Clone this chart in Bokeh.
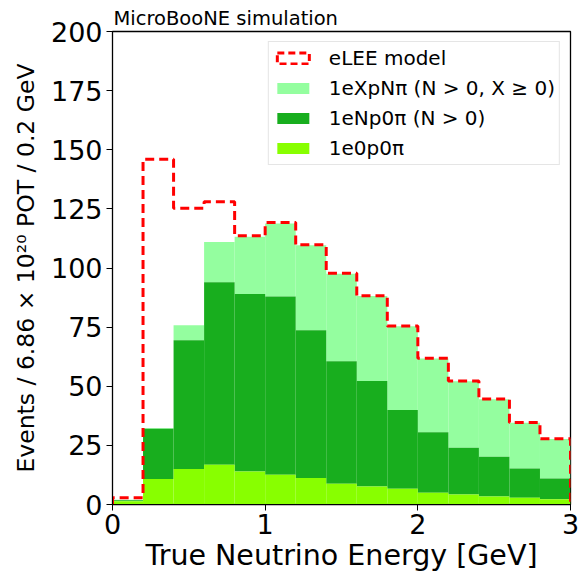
import numpy as np
from bokeh.plotting import figure
from bokeh.models import Legend, LegendItem, FixedTicker, Range1d
from bokeh.embed import file_html
from bokeh.resources import INLINE

edges = [0.0, 0.2, 0.4, 0.6, 0.8, 1.0, 1.2, 1.4, 1.6, 1.8, 2.0, 2.2, 2.4, 2.6, 2.8, 3.0]
e0p0pi = [1.4, 10.8, 15.0, 16.8, 14.0, 12.6, 11.2, 8.8, 7.6, 6.7, 5.0, 4.2, 3.4, 2.9, 2.2]
eNp0pi_top = [1.8, 32.0, 69.5, 94.0, 89.0, 88.0, 73.7, 60.6, 52.2, 40.0, 30.5, 24.0, 20.2, 15.2, 11.0]
total_top = [2.0, 32.3, 75.8, 111.0, 113.2, 118.8, 109.6, 97.6, 88.2, 75.4, 61.7, 52.1, 44.5, 34.6, 27.7]
elee = [2.9, 146.0, 125.3, 128.0, 113.6, 119.2, 109.8, 97.8, 88.3, 75.5, 61.8, 52.2, 44.6, 34.7, 27.8]
y_ticks = [0, 25, 50, 75, 100, 125, 150, 175, 200]
x_ticks = [0, 1, 2, 3]

c_lime = "#88ff00"
c_dark = "#18ae1e"
c_light = "#94fe9f"

FONT = "DejaVu Sans"

p = figure(width=583, height=574, output_backend="svg", toolbar_location=None,
           x_range=Range1d(0, 3), y_range=Range1d(0, 200),
           min_border_left=112, min_border_right=13, min_border_top=31, min_border_bottom=70)
p.title.text = "MicroBooNE simulation"
p.title.text_font = FONT
p.title.text_font_size = "19.5px"
p.title.text_font_style = "normal"
p.title.text_color = "black"
p.title.offset = 1
p.title.standoff = 3

left = np.array(edges[:-1])
right = np.array(edges[1:])
zeros = np.zeros(len(left))

r_light = p.quad(left=left, right=right, bottom=np.array(eNp0pi_top), top=np.array(total_top),
                 fill_color=c_light, line_color=None)
r_dark = p.quad(left=left, right=right, bottom=np.array(e0p0pi), top=np.array(eNp0pi_top),
                fill_color=c_dark, line_color=None)
r_lime = p.quad(left=left, right=right, bottom=zeros, top=np.array(e0p0pi),
                fill_color=c_lime, line_color=None)

# step outline for eLEE model
xs = np.repeat(np.array(edges), 2)
ys = np.concatenate([[0.0], np.repeat(np.array(elee), 2), [0.0]])
p.line(xs, ys, line_color="red", line_width=3, line_dash="9 5")
# legend proxy
r_elee = p.quad(left=[0], right=[0], bottom=[0], top=[0], fill_alpha=0, line_color="red",
                line_width=3, line_dash="7 4")

legend = Legend(items=[
    LegendItem(label="eLEE model", renderers=[r_elee]),
    LegendItem(label="1eXpNπ (N > 0, X ≥ 0)", renderers=[r_light]),
    LegendItem(label="1eNp0π (N > 0)", renderers=[r_dark]),
    LegendItem(label="1e0p0π", renderers=[r_lime]),
], location="top_right")
legend.label_text_font = FONT
legend.label_text_font_size = "20px"
legend.label_text_color = "black"
legend.glyph_width = 40
legend.glyph_height = 14
legend.label_height = 20
legend.spacing = 6
legend.padding = 4
legend.margin = 10
legend.border_line_color = "#cccccc"
legend.border_line_width = 1
legend.label_standoff = 16
p.add_layout(legend)

p.xgrid.visible = False
p.ygrid.visible = False
p.outline_line_color = "black"
p.outline_line_width = 1.3

p.xaxis.ticker = FixedTicker(ticks=x_ticks)
p.yaxis.ticker = FixedTicker(ticks=y_ticks)
p.xaxis.minor_tick_line_color = None
p.yaxis.minor_tick_line_color = None
for ax in (p.xaxis, p.yaxis):
    ax.major_tick_out = 6
    ax.major_tick_in = 0
    ax.axis_line_color = "black"
    ax.major_tick_line_color = "black"
    ax.major_label_text_font = FONT
    ax.axis_label_text_font = FONT
    ax.axis_label_text_font_style = "normal"
    ax.major_label_text_color = "black"
    ax.axis_label_text_color = "black"
    ax.major_label_text_font_size = "27px"

p.xaxis.axis_label = "True Neutrino Energy [GeV]"
p.xaxis.axis_label_text_font_size = "28.5px"
p.xaxis.axis_label_standoff = 2
p.xaxis.major_label_standoff = 3
p.yaxis.axis_label = "Events / 6.86 × 10²⁰ POT / 0.2 GeV"
p.yaxis.axis_label_text_font_size = "23.5px"
p.yaxis.axis_label_standoff = 8
p.yaxis.major_label_standoff = 4

open("out.html", "w").write(file_html(p, INLINE))
